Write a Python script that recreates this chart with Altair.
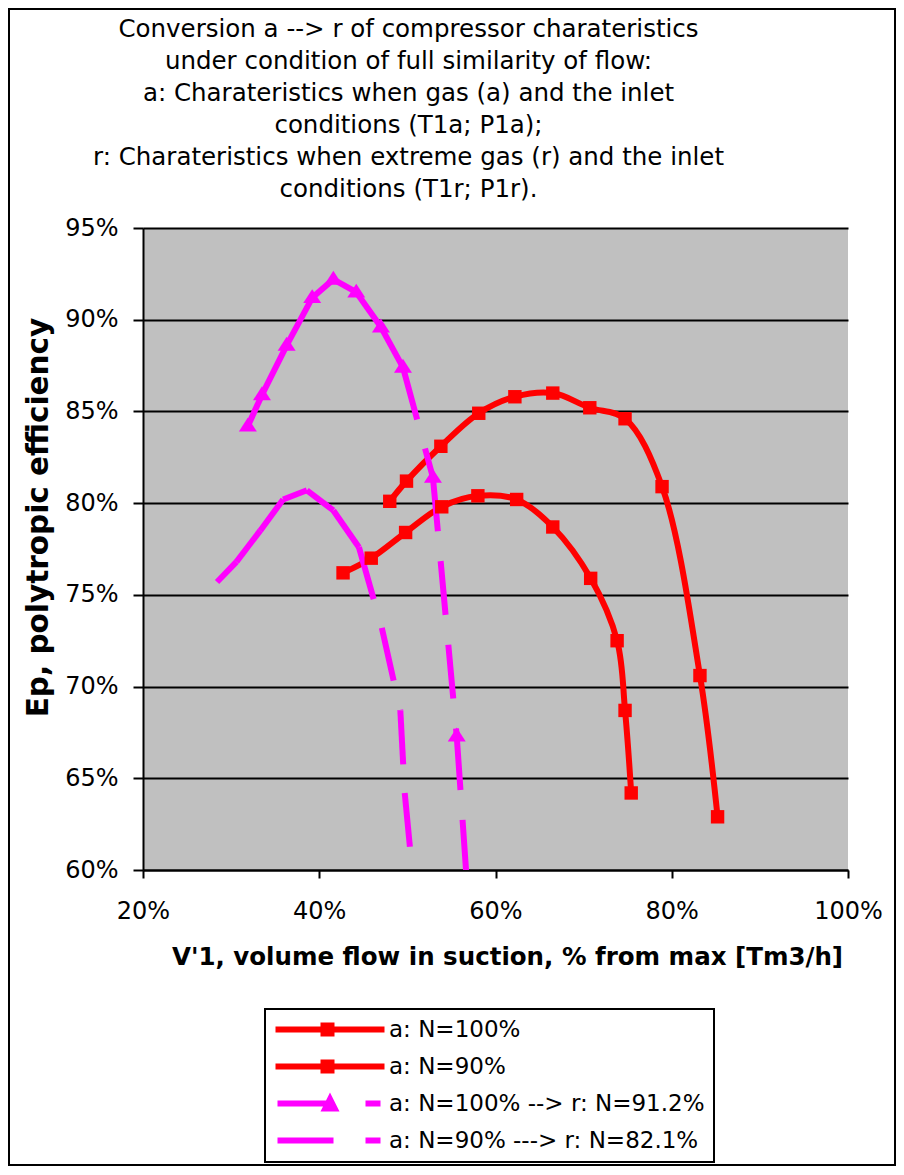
import altair as alt
import pandas as pd

# ---------------- data ----------------
series_names = [
    "a: N=100%",
    "a: N=90%",
    "a: N=100% --> r: N=91.2%",
    "a: N=90% ---> r: N=82.1%",
]
s1_x = [48.0, 49.9, 53.8, 58.1, 62.2, 66.5, 70.7, 74.7, 78.9, 83.2, 85.2]
s1_y = [80.1, 81.2, 83.1, 84.9, 85.8, 86.0, 85.2, 84.6, 80.9, 70.6, 62.9]
s2_x = [42.7, 45.9, 49.8, 53.9, 58.0, 62.4, 66.5, 70.8, 73.8, 74.7, 75.4]
s2_y = [76.2, 77.0, 78.4, 79.8, 80.4, 80.2, 78.7, 75.9, 72.5, 68.7, 64.2]
s3_x = [31.9, 33.5, 36.3, 39.2, 41.6, 44.2, 47.0, 49.5, 52.9, 55.6, 56.8]
s3_y = [84.2, 85.9, 88.6, 91.2, 92.2, 91.5, 89.6, 87.4, 81.4, 67.3, 59.0]
s4_x = [28.4, 30.6, 33.3, 35.9, 38.6, 41.6, 44.5, 47.1, 49.2, 49.7, 50.3]
s4_y = [75.7, 76.8, 78.5, 80.2, 80.7, 79.6, 77.6, 73.2, 68.7, 64.2, 61.2]

x_ticks = [20, 40, 60, 80, 100]
y_ticks = [60, 65, 70, 75, 80, 85, 90, 95]

title_lines = [
    "Conversion a --> r of compressor charateristics",
    "under condition of full similarity of flow:",
    "a: Charateristics when gas (a) and the inlet",
    "conditions (T1a; P1a);",
    "r: Charateristics when extreme gas (r) and the inlet",
    "conditions  (T1r; P1r).",
]

RED = "#FF0000"
MAG = "#FF00FF"

# ---------------- tables ----------------
red_rows = []
for name, xs, ys in [(series_names[0], s1_x, s1_y), (series_names[1], s2_x, s2_y)]:
    for i, (x, y) in enumerate(zip(xs, ys)):
        red_rows.append({"series": name, "idx": i, "x": x, "y": y})
red_df = pd.DataFrame(red_rows)

# magenta dashed lines: one path per segment so the dash restarts at each point
seg_rows = []
for name, xs, ys in [(series_names[2], s3_x, s3_y), (series_names[3], s4_x, s4_y)]:
    for i in range(len(xs) - 1):
        key = f"{name}-{i}"
        seg_rows.append({"seg": key, "o": 0, "x": xs[i], "y": ys[i]})
        seg_rows.append({"seg": key, "o": 1, "x": xs[i + 1], "y": ys[i + 1]})
seg_df = pd.DataFrame(seg_rows)

tri_df = pd.DataFrame({"x": s3_x, "y": s3_y})

# legend-only layer (points placed outside the domain, clipped away)
legend_paths = [
    "M-1,-0.3H9.9V0.3H-1Z M3.5,-0.7H4.9V0.7H3.5Z",
    "M-1,-0.3H9.9V0.3H-1Z M3.5,-0.7H4.9V0.7H3.5Z",
    "M-0.8,-0.3H4.7V0.3H-0.8Z M3.5,0.8L4.45,-1.1L5.4,0.8Z M8,-0.3H9.5V0.3H8Z",
    "M-0.8,-0.3H4.8V0.3H-0.8Z M8,-0.3H9.5V0.3H8Z",
]
leg_df = pd.DataFrame({"series": series_names, "x": [0] * 4, "y": [0] * 4})
frame_df = pd.DataFrame({"k": [0]})

# ---------------- encodings ----------------
FONT = "DejaVu Sans"
x_enc = alt.X(
    "x:Q",
    scale=alt.Scale(domain=[20, 100], nice=False, zero=False),
    axis=alt.Axis(
        values=x_ticks, labelExpr="datum.value + '%'", grid=False,
        domainColor="black", domainWidth=2, tickColor="black", tickWidth=2, tickSize=8,
        labelFont=FONT, labelFontSize=24, labelColor="black", labelPadding=21, labelFlush=False,
        title="V'1, volume flow in suction, % from max [Tm3/h]",
        titleFont=FONT, titleFontWeight="bold", titleFontSize=24.5, titleColor="black",
        titleX=364, titleY=87, titleBaseline="middle",
    ),
)
y_enc = alt.Y(
    "y:Q",
    scale=alt.Scale(domain=[60, 95], nice=False, zero=False),
    axis=alt.Axis(
        values=y_ticks, labelExpr="datum.value + '%'", grid=True,
        gridColor="black", gridWidth=2, gridOpacity=1,
        domainColor="black", domainWidth=2, tickColor="black", tickWidth=2, tickSize=10,
        labelFont=FONT, labelFontSize=24, labelColor="black", labelPadding=15,
        title="Ep, polytropic efficiency",
        titleFont=FONT, titleFontWeight="bold", titleFontSize=29.5, titleColor="black",
        titleX=-105, titleY=289, titleBaseline="middle",
    ),
)

frame = alt.Chart(frame_df).mark_rect(filled=False, stroke="black", strokeWidth=2).encode(
    x=alt.value(-134), x2=alt.value(752), y=alt.value(-219), y2=alt.value(937)
)

red_lines = alt.Chart(red_df).mark_line(
    color=RED, strokeWidth=6, strokeJoin="round", interpolate="catmull-rom", clip=True
).encode(x=x_enc, y=y_enc, detail="series:N", order="idx:Q")

mag_lines = alt.Chart(seg_df).mark_line(
    color=MAG, strokeWidth=6, strokeDash=[54, 30], strokeCap="butt", clip=True
).encode(x="x:Q", y="y:Q", detail="seg:N", order="o:Q")

red_pts = alt.Chart(red_df).mark_point(
    shape="square", filled=True, size=180, color=RED, opacity=1, clip=True
).encode(x="x:Q", y="y:Q")

tri_pts = alt.Chart(tri_df).mark_point(
    shape="M-1,0.6L0,-0.95L1,0.6Z", filled=True, size=324, color=MAG, opacity=1, clip=True
).encode(x="x:Q", y="y:Q")

leg = alt.Legend(
    orient="none", legendX=122, legendY=781, title=None,
    labelFont=FONT, labelFontSize=23, labelColor="black", labelOffset=92, labelLimit=500,
    rowPadding=13, padding=9, strokeColor="black", fillColor="white",
    symbolSize=400, symbolStrokeWidth=0, symbolOpacity=1,
)
legend_layer = alt.Chart(leg_df).mark_point(filled=True, opacity=1, clip=True).encode(
    x="x:Q", y="y:Q",
    color=alt.Color("series:N", scale=alt.Scale(domain=series_names, range=[RED, RED, MAG, MAG]), legend=leg),
    shape=alt.Shape("series:N", scale=alt.Scale(domain=series_names, range=legend_paths), legend=leg),
)

chart = alt.layer(frame, red_lines, mag_lines, red_pts, tri_pts, legend_layer).properties(
    width=705, height=642,
    autosize=alt.AutoSizeParams(type="none"),
    padding={"left": 135, "top": 220, "right": 48, "bottom": 297},
    title=alt.Title(
        text=title_lines, font=FONT, fontSize=24.5, fontWeight="normal", color="black",
        anchor="middle", frame="group", dx=-87, dy=248, offset=30, lineHeight=32, baseline="bottom",
    ),
).configure_view(fill="#C0C0C0", strokeWidth=0).configure_legend(strokeWidth=2)

chart.save("out.html", embed_options={"renderer": "svg", "actions": False})
